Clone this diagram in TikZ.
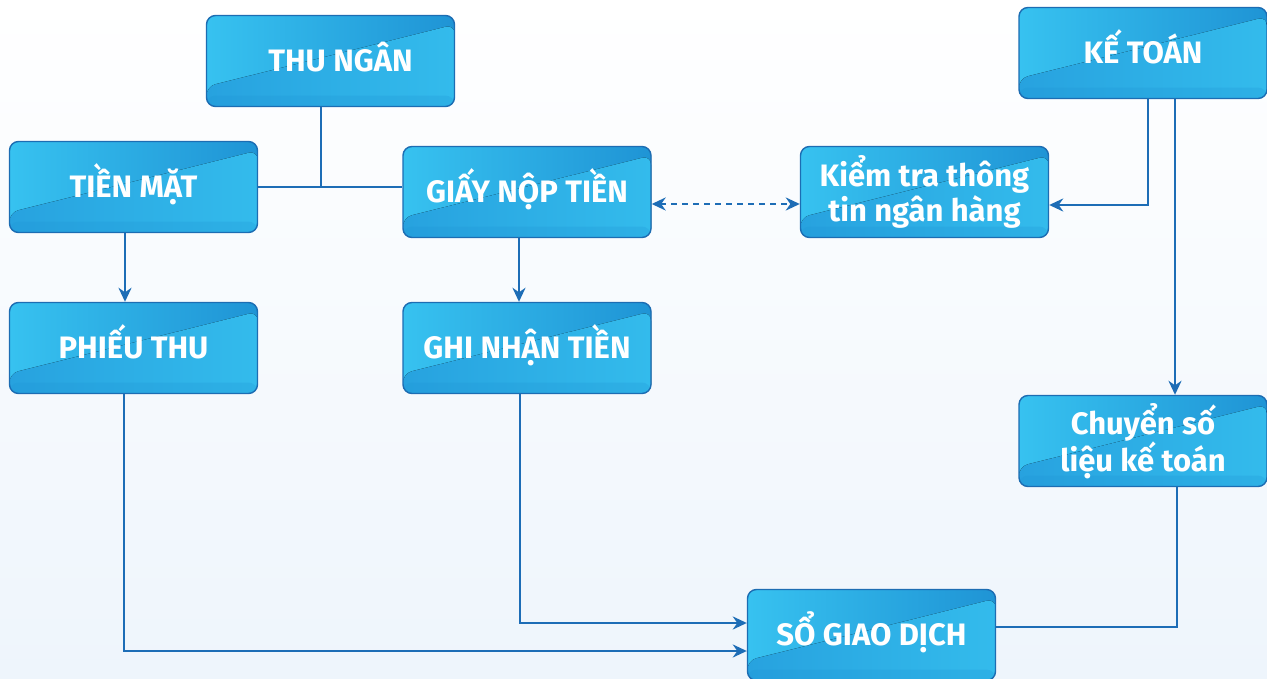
\documentclass[tikz,border=0pt]{standalone}
\usepackage{fontspec}
\setmainfont{Fira Sans}
\usetikzlibrary{arrows.meta,calc}
\definecolor{bgtop}{HTML}{FFFFFF}
\definecolor{bgbot}{HTML}{EEF5FC}
\definecolor{lightc}{HTML}{37C2F0}
\definecolor{darkc}{HTML}{1F94D5}
\definecolor{midc}{HTML}{27A2DF}
\definecolor{bord}{HTML}{1C6DB3}
\definecolor{linec}{HTML}{1D6DB6}
\tikzset{
  box/.style={draw=bord, line width=1.4pt, rounded corners=9pt,
    minimum width=248pt, minimum height=91pt, inner sep=0pt,
    text=white, font=\fontsize{31}{35}\selectfont\bfseries, align=center,
    path picture={
      \fill[left color=lightc, right color=darkc]
        (path picture bounding box.south west) rectangle (path picture bounding box.north east);
      \fill[left color=midc, right color=lightc!85!darkc]
        (path picture bounding box.south west)
        -- ($(path picture bounding box.south west)!0.22!(path picture bounding box.north west)$)
        -- ($(path picture bounding box.north east)!0.1!(path picture bounding box.south east)$)
        -- (path picture bounding box.south east) -- cycle;
      \fill[darkc, opacity=0.25]
        (path picture bounding box.south west)
        rectangle ($(path picture bounding box.south east)!0.12!(path picture bounding box.north east)$);
    }},
  capline/.style={text height=21pt, text depth=0pt},
  conn/.style={draw=linec, line width=2.8pt},
  arr/.style={conn, -{Stealth[length=14pt,width=13pt]}},
  darr/.style={conn, {Stealth[length=14pt,width=13pt]}-{Stealth[length=14pt,width=13pt]}, dash pattern=on 6pt off 5pt}
}
\begin{document}
\begin{tikzpicture}[x=1pt,y=-1pt]
\shade[top color=bgtop, bottom color=bgbot] (0,0) rectangle (1267,679);
\useasboundingbox (0,0) rectangle (1267,679);

\node[box, capline] (thu) at (330.5,61) {\hspace*{20pt}THU NGÂN};
\node[box, capline] (tien) at (133.5,187) {TIỀN MẶT};
\node[box, capline] (giay) at (527,192) {GIẤY NỘP TIỀN};
\node[box] (kiem) at (924.5,192) {Kiểm tra thông\\tin ngân hàng};
\node[box, capline] (ke) at (1143,53) {KẾ TOÁN};
\node[box, capline] (phieu) at (133.5,348) {PHIẾU THU};
\node[box, capline] (ghi) at (527,348) {GHI NHẬN TIỀN};
\node[box] (chuyen) at (1143,441) {Chuyển số\\liệu kế toán};
\node[box, capline] (so) at (871.5,635) {SỔ GIAO DỊCH};

\coordinate (j1) at (321,187);
\draw[conn] (tien.east |- j1) -- (giay.west |- j1);
\draw[conn] (thu.south -| j1) -- (j1);

\draw[arr] (tien.south -| 125,0) -- (phieu.north -| 125,0);
\draw[arr] (giay.south -| 519,0) -- (ghi.north -| 519,0);

\draw[darr] (giay.east |- 0,204) -- (kiem.west |- 0,204);

\draw[arr] (ke.south -| 1148,0) |- (kiem.east |- 0,205);
\draw[arr] (ke.south -| 1175,0) -- (chuyen.north -| 1175,0);

\draw[conn] (chuyen.south -| 1177,0) |- (so.east |- 0,627);
\draw[arr] (ghi.south -| 520,0) |- (so.west |- 0,623);
\draw[arr] (phieu.south -| 124,0) |- (so.west |- 0,651);
\end{tikzpicture}
\end{document}
